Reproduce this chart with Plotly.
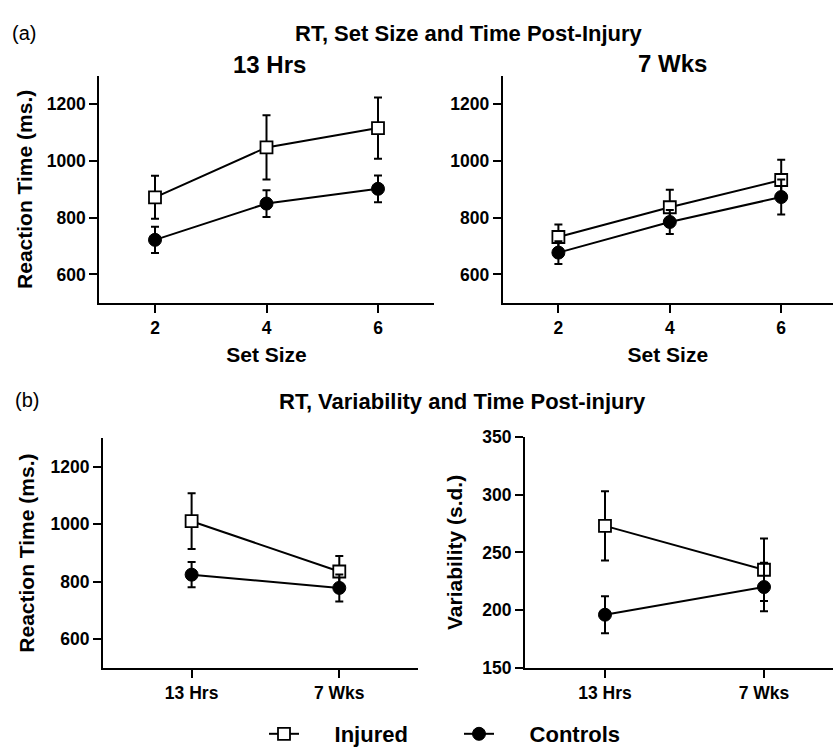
import plotly.graph_objects as go

# ---- data ----
set_sizes = [2, 4, 6]
inj_13h = [872, 1048, 1116]
inj_13h_err = [76, 113, 108]
ctl_13h = [722, 850, 902]
ctl_13h_err = [46, 47, 47]
inj_7w = [732, 837, 933]
inj_7w_err = [44, 62, 71]
ctl_7w = [677, 785, 873]
ctl_7w_err = [40, 42, 62]

time_points = ["13 Hrs", "7 Wks"]
inj_rt = [1011, 836]
inj_rt_err = [97, 54]
ctl_rt = [825, 779]
ctl_rt_err = [44, 47]
inj_sd = [273, 235]
inj_sd_err = [30, 27]
ctl_sd = [196, 220]
ctl_sd_err = [16, 21]

W, H = 833, 755  # reference picture size; layout positions are fractions of it
FONT = "Liberation Sans"
NB = "\u00a0"


def px(x):
    return min(max(x / W, 0), 1)


def py(y):
    return min(max(1 - y / H, 0), 1)


def injured(x, y, err, xa, ya, show):
    return go.Scatter(
        x=x, y=y, xaxis=xa, yaxis=ya, name=NB * 5 + "Injured", showlegend=show,
        mode="lines+markers",
        line=dict(color="black", width=2),
        marker=dict(symbol="square", size=12, color="white",
                    line=dict(color="black", width=1.8)),
        error_y=dict(type="data", array=err, visible=True, color="black",
                     thickness=2, width=4),
    )


def controls(x, y, err, xa, ya, show):
    return go.Scatter(
        x=x, y=y, xaxis=xa, yaxis=ya, name=NB * 5 + "Controls", showlegend=show,
        mode="lines+markers",
        line=dict(color="black", width=2),
        marker=dict(symbol="circle", size=13, color="black",
                    line=dict(color="black", width=1)),
        error_y=dict(type="data", array=err, visible=True, color="black",
                     thickness=2, width=4),
    )


fig = go.Figure()
fig.add_trace(injured(set_sizes, inj_13h, inj_13h_err, "x", "y", True))
fig.add_trace(controls(set_sizes, ctl_13h, ctl_13h_err, "x", "y", True))
fig.add_trace(injured(set_sizes, inj_7w, inj_7w_err, "x2", "y2", False))
fig.add_trace(controls(set_sizes, ctl_7w, ctl_7w_err, "x2", "y2", False))
fig.add_trace(injured(time_points, inj_rt, inj_rt_err, "x3", "y3", False))
fig.add_trace(controls(time_points, ctl_rt, ctl_rt_err, "x3", "y3", False))
fig.add_trace(injured(time_points, inj_sd, inj_sd_err, "x4", "y4", False))
fig.add_trace(controls(time_points, ctl_sd, ctl_sd_err, "x4", "y4", False))

tickfont = dict(family=FONT, size=17.5, color="black", weight="bold")
titlefont = dict(family=FONT, size=21, color="black", weight="bold")
axis_common = dict(showline=True, linecolor="black", linewidth=2,
                   ticks="outside", ticklen=8, tickwidth=2, tickcolor="black",
                   showgrid=False, zeroline=False, tickfont=tickfont,
                   fixedrange=True)

fig.update_layout(
    autosize=True,
    margin=dict(l=0, r=0, t=0, b=0),
    paper_bgcolor="white", plot_bgcolor="white",
    font=dict(family=FONT, color="black"),
    xaxis=dict(domain=[px(99.25), px(433.75)], range=[1, 7], anchor="y",
               tickvals=set_sizes,
               title=dict(text="Set Size", font=titlefont, standoff=10),
               **axis_common),
    yaxis=dict(domain=[py(301.2), py(67.8)], range=[500, 1300], anchor="x",
               tickvals=[600, 800, 1000, 1200],
               title=dict(text="Reaction Time (ms.)", font=titlefont, standoff=8),
               **axis_common),
    xaxis2=dict(domain=[px(502.7), px(833)], range=[1, 6.93], anchor="y2",
                tickvals=set_sizes,
                title=dict(text="Set Size", font=titlefont, standoff=10),
                **axis_common),
    yaxis2=dict(domain=[py(301.2), py(67.8)], range=[500, 1300], anchor="x2",
                tickvals=[600, 800, 1000, 1200], **axis_common),
    xaxis3=dict(domain=[px(103), px(418)], range=[-0.6, 1.533], anchor="y3",
                type="category", **axis_common),
    yaxis3=dict(domain=[py(676.9), py(440.4)], range=[500, 1300], anchor="x3",
                tickvals=[600, 800, 1000, 1200],
                title=dict(text="Reaction Time (ms.)", font=titlefont, standoff=10),
                **axis_common),
    xaxis4=dict(domain=[px(525), px(833)], range=[-0.503, 1.434], anchor="y4",
                type="category", **axis_common),
    yaxis4=dict(domain=[py(676.6), py(439.3)], range=[150, 350], anchor="x4",
                tickvals=[150, 200, 250, 300, 350],
                title=dict(text="Variability (s.d.)", font=titlefont, standoff=14),
                **axis_common),
    legend=dict(orientation="h", x=px(264), xanchor="left",
                y=py(745), yanchor="middle", entrywidth=150,
                font=dict(family=FONT, size=22, color="black", weight="bold"),
                bgcolor="rgba(0,0,0,0)", itemclick=False, itemdoubleclick=False),
    showlegend=True,
)

annots = [
    dict(text="(a)", x=px(10), y=py(24), xanchor="left", yanchor="middle",
         font=dict(family=FONT, size=20, color="black")),
    dict(text="<b>RT, Set Size and Time Post-Injury</b>", x=px(468.5), y=py(24),
         xanchor="center", yanchor="middle",
         font=dict(family=FONT, size=22, color="black")),
    dict(text="<b>13 Hrs</b>", x=px(269), y=py(56), xanchor="center", yanchor="middle",
         font=dict(family=FONT, size=24, color="black")),
    dict(text="<b>7 Wks</b>", x=px(672), y=py(55), xanchor="center", yanchor="middle",
         font=dict(family=FONT, size=24, color="black")),
    dict(text="(b)", x=px(13), y=py(401), xanchor="left", yanchor="middle",
         font=dict(family=FONT, size=20, color="black")),
    dict(text="<b>RT, Variability and Time Post-injury</b>", x=px(462.5), y=py(403),
         xanchor="center", yanchor="middle",
         font=dict(family=FONT, size=22, color="black")),
]
for a in annots:
    a.update(xref="paper", yref="paper", showarrow=False)
fig.update_layout(annotations=annots)

# the graph div is pinned to the whole viewport (no body margin, no scrolling)
fig.write_html(
    "out.html",
    config=dict(displayModeBar=False, responsive=True),
    default_width="100vw",
    default_height="100vh; position:fixed; top:0; left:0",
)
